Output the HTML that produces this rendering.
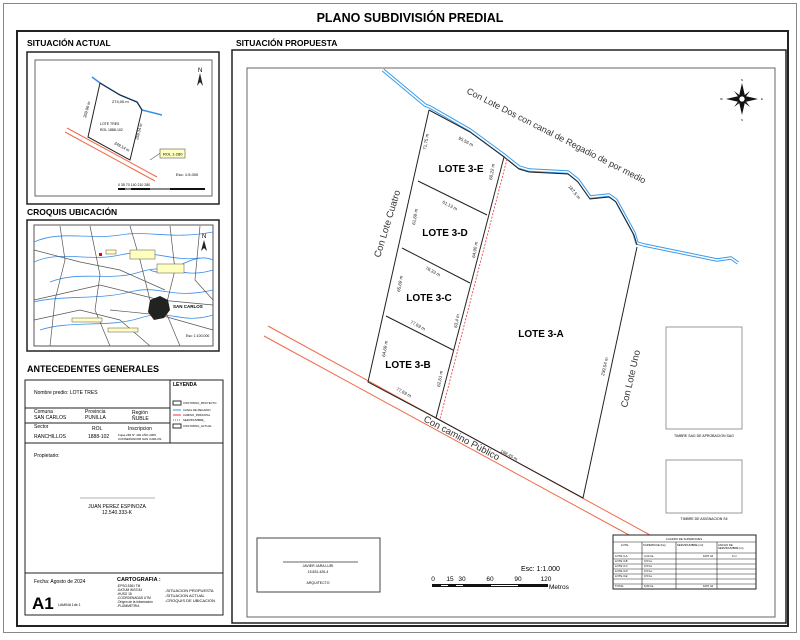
<!DOCTYPE html>
<html><head><meta charset="utf-8"><style>
body{margin:0;background:#fff}
svg{display:block;font-family:"Liberation Sans",sans-serif}
</style></head><body>
<svg width="800" height="640" viewBox="0 0 800 640" xmlns="http://www.w3.org/2000/svg">
<rect x="0" y="0" width="800" height="640" fill="#fff"/>
<rect x="3.5" y="3.5" width="793" height="629" fill="none" stroke="#888" stroke-width="1"/>
<text x="410" y="22" font-size="12.5" font-weight="bold" text-anchor="middle">PLANO SUBDIVISIÓN PREDIAL</text>
<rect x="17" y="31" width="771" height="595" fill="none" stroke="#222" stroke-width="2"/>

<!-- LEFT: Situacion actual -->
<text x="27" y="46" font-size="8.5" font-weight="bold">SITUACIÓN ACTUAL</text>
<rect x="27" y="52" width="192" height="152" fill="none" stroke="#222" stroke-width="1.5"/>
<rect x="35" y="60" width="177" height="136" fill="none" stroke="#666" stroke-width="1"/>
<polyline points="92,77 100,83 120,95 137,102 142,110 162,115" fill="none" stroke="#3a8ee6" stroke-width="1.5"/>
<polygon points="100,83 120,95 137,102 142,110 130,160 88,137" fill="none" stroke="#222" stroke-width="1"/>
<line x1="67" y1="128" x2="157" y2="177" stroke="#f06a4a" stroke-width="1"/>
<line x1="65" y1="132" x2="155" y2="181" stroke="#f06a4a" stroke-width="1"/>
<text x="112" y="103" font-size="4">274,00 m</text>
<text x="100" y="125" font-size="3.5">LOTE TRES</text>
<text x="100" y="131" font-size="3.5">ROL 1888-102</text>
<text x="86" y="118" font-size="4" transform="rotate(-75 86 118)">269,90 m</text>
<text x="114" y="144" font-size="4" transform="rotate(28 114 144)">249,14 m</text>
<text x="138" y="140" font-size="4" transform="rotate(-75 138 140)">259,34 m</text>
<line x1="150" y1="160" x2="162" y2="152" stroke="#555" stroke-width="0.6"/>
<rect x="160" y="149" width="25" height="9" fill="#ffffc0" stroke="#555" stroke-width="0.6"/>
<text x="163" y="155.5" font-size="4">ROL 1-280</text>
<text x="176" y="176" font-size="4">Esc: 1:5.000</text>
<text x="118" y="186" font-size="3.5">0  35   70       140        210       280</text>
<rect x="118" y="188" width="87" height="2" fill="#111"/>
<rect x="125" y="188.5" width="6" height="1" fill="#fff"/><rect x="150" y="188.5" width="20" height="1" fill="#fff"/>
<polygon points="200,73 197,86 200,82 203,86" fill="#222"/><text x="198" y="72" font-size="6">N</text>

<!-- Croquis -->
<text x="27" y="215" font-size="8.5" font-weight="bold">CROQUIS UBICACIÓN</text>
<rect x="27" y="220" width="192" height="131" fill="none" stroke="#222" stroke-width="1.5"/>
<rect x="34" y="225" width="179" height="121" fill="none" stroke="#555" stroke-width="1"/>
<g fill="none" stroke="#3a8ee6" stroke-width="0.8">
<path d="M34,242 C60,230 90,240 120,235 S170,240 213,232"/>
<path d="M34,262 C60,250 90,262 120,255 S170,262 200,258"/>
<path d="M50,282 C80,270 110,282 140,272 S180,280 213,270"/>
<path d="M34,302 C60,295 100,300 130,292 S170,300 213,290"/>
<path d="M40,330 C70,320 110,328 140,318 S180,325 213,315"/>
<path d="M150,270 C170,280 190,250 213,260"/>
</g>
<g fill="none" stroke="#555" stroke-width="0.7">
<path d="M34,250 L80,262 L120,270 L165,290"/><path d="M60,226 L65,260 L55,300 L50,346"/>
<path d="M90,226 L100,275 L95,310 L110,346"/><path d="M130,226 L140,260 L150,300"/>
<path d="M34,300 L100,285 L160,300 L213,305"/><path d="M170,226 L175,270 L165,310 L180,346"/>
<path d="M110,310 L160,315 L213,330"/><path d="M200,226 L195,280 L213,300"/>
<path d="M34,320 L80,310 L120,320 L150,346"/>
</g>
<path d="M150,300 l10,-4 l8,4 l2,10 l-6,8 l-10,2 l-6,-8z" fill="#222"/>
<rect x="99" y="253" width="3" height="3" fill="#e00"/>
<text x="173" y="308" font-size="4.5" font-weight="bold">SAN CARLOS</text>
<g fill="#ffffc0" stroke="#555" stroke-width="0.5">
<rect x="106" y="250" width="10" height="4"/><rect x="130" y="250" width="25" height="9"/><rect x="157" y="264" width="27" height="9"/>
<rect x="72" y="318" width="30" height="4"/><rect x="108" y="328" width="30" height="4"/></g>
<text x="186" y="337" font-size="3.5">Esc: 1:100.000</text>
<polygon points="204,240 201,251 204,248 207,251" fill="#222"/><text x="202" y="238" font-size="6">N</text>

<!-- Antecedentes -->
<text x="27" y="372" font-size="9" font-weight="bold">ANTECEDENTES  GENERALES</text>
<rect x="25" y="380" width="198" height="235" fill="none" stroke="#222" stroke-width="1"/>
<line x1="170" y1="380" x2="170" y2="443" stroke="#222"/>
<line x1="25" y1="408" x2="170" y2="408" stroke="#222"/>
<line x1="25" y1="423" x2="170" y2="423" stroke="#222"/>
<line x1="25" y1="443" x2="223" y2="443" stroke="#222"/>
<line x1="25" y1="573" x2="223" y2="573" stroke="#222"/>
<g font-size="5">
<text x="34" y="394">Nombre predio:  LOTE TRES</text>
<text x="34" y="413">Comuna</text><text x="34" y="419">SAN CARLOS</text>
<text x="85" y="413">Provincia</text><text x="85" y="419">PUNILLA</text>
<text x="132" y="414">Región</text><text x="132" y="420">ÑUBLE</text>
<text x="34" y="428">Sector</text><text x="92" y="430">ROL</text><text x="128" y="430">Inscripcion</text>
<text x="34" y="438">RANCHILLOS</text><text x="88" y="438">1888-102</text>
<text x="34" y="457">Propietario:</text>
<text x="173" y="386" font-weight="bold">LEYENDA</text>
<text x="117" y="508" text-anchor="middle">JUAN PEREZ ESPINOZA</text>
<text x="117" y="514" text-anchor="middle">12.540.333-K</text>
<text x="34" y="583">Fecha:  Agosto de 2024</text>
<text x="117" y="581" font-weight="bold" font-size="5.5">CARTOGRAFIA :</text>
<text x="58" y="606" font-size="3.5">LAMINA 1de 1</text>
</g>
<text x="118" y="436" font-size="3">Fojas 283 N° 402 AÑO 2005</text>
<text x="118" y="440" font-size="3">CONSERVADOR SAN CARLOS</text>
<g font-size="3.2"><text x="117" y="587">-EPSG:5361 TM</text><text x="117" y="591">-DATUM WGS 84</text><text x="117" y="595">-HUSO 18</text><text x="117" y="599">-COORDENADAS UTM</text><text x="117" y="603">-Origen de la información</text><text x="117" y="607">-PLANIMETRIA</text>
<text x="165" y="592" font-size="4">-SITUACION PROPUESTA</text><text x="165" y="597" font-size="4">-SITUACION ACTUAL</text><text x="165" y="602" font-size="4">-CROQUIS DE UBICACION</text></g>
<text x="32" y="609" font-size="17" font-weight="bold">A1</text>
<line x1="80" y1="498" x2="155" y2="498" stroke="#999" stroke-width="0.7"/>
<g stroke-width="1">
<rect x="173" y="401" width="8" height="4" fill="none" stroke="#333"/><line x1="173" y1="410" x2="181" y2="410" stroke="#3a8ee6"/>
<line x1="173" y1="415" x2="181" y2="415" stroke="#e33"/><line x1="173" y1="420" x2="181" y2="420" stroke="#e33" stroke-dasharray="1,1"/>
<rect x="173" y="424" width="8" height="4" fill="none" stroke="#333"/></g>
<g font-size="2.8"><text x="183" y="404">CONTORNO_PROYECTO</text><text x="183" y="411">CANAL DE REGADIO</text><text x="183" y="416">CAMINO_PRINCIPAL</text><text x="183" y="421">SERVIDUMBRE_</text><text x="183" y="427">CONTORNO_ACTUAL</text></g>

<!-- RIGHT PANEL -->
<text x="236" y="46" font-size="8.5" font-weight="bold">SITUACIÓN PROPUESTA</text>
<rect x="232" y="50" width="554" height="573" fill="none" stroke="#222" stroke-width="1.5"/>
<rect x="247" y="68" width="528" height="549" fill="none" stroke="#666" stroke-width="1"/>

<!-- canal -->
<polyline points="383,70 425,105 430,107 470,130 504,155 519,167 529,170 568,172 578,180 590,197 609,195 616,200 634,233 637,243 644,245 717,260 731,258 738,263" fill="none" stroke="#3a9ae8" stroke-width="3.5" stroke-linejoin="round"/>
<polyline points="383,70 425,105 430,107 470,130 504,155 519,167 529,170 568,172 578,180 590,197 609,195 616,200 634,233 637,243 644,245 717,260 731,258 738,263" fill="none" stroke="#fff" stroke-width="1.5" stroke-linejoin="round"/>
<polyline points="504,157 519,169 529,172 568,174 578,182 590,199 609,197 616,202 634,235 637,245" fill="none" stroke="#222" stroke-width="1"/>

<!-- road -->
<line x1="268" y1="326" x2="650" y2="535" stroke="#f06a4a" stroke-width="1"/>
<line x1="264" y1="336" x2="629" y2="535" stroke="#f06a4a" stroke-width="1"/>

<!-- lots -->
<g fill="none" stroke="#222" stroke-width="1">
<polyline points="429,110 470,132 504,157 436,418 368,382 429,110"/>
<line x1="418" y1="181" x2="487" y2="215"/>
<line x1="402" y1="248" x2="470" y2="283"/>
<line x1="386" y1="316" x2="453" y2="350"/>
<polyline points="436,418 583,498 637,247"/>
</g>
<line x1="507" y1="159" x2="440" y2="419" stroke="#e33" stroke-width="0.8" stroke-dasharray="2,1.5"/>

<g font-size="10" font-weight="bold" text-anchor="middle">
<text x="461" y="172">LOTE 3-E</text><text x="445" y="236">LOTE 3-D</text><text x="429" y="301">LOTE 3-C</text><text x="408" y="368">LOTE 3-B</text><text x="541" y="337">LOTE 3-A</text></g>

<g font-size="9.5" fill="#333">
<text x="466" y="93" font-size="9" transform="rotate(27 466 93)">Con Lote Dos  con canal de Regadio de por medio</text>
<text x="380" y="258" transform="rotate(-73 380 258)">Con Lote Cuatro</text>
<text x="627" y="408" transform="rotate(-77 627 408)">Con Lote Uno</text>
<text x="423" y="421" transform="rotate(28 423 421)">Con camino Público</text></g>

<g font-size="4.5" fill="#222">
<text x="458" y="139" transform="rotate(28 458 139)">95,56 m</text>
<text x="426" y="150" transform="rotate(-80 426 150)">71,75 m</text>
<text x="492" y="180" transform="rotate(-80 492 180)">60,22 m</text>
<text x="442" y="203" transform="rotate(28 442 203)">61,13 m</text>
<text x="415" y="225" transform="rotate(-80 415 225)">61,69 m</text>
<text x="475" y="258" transform="rotate(-80 475 258)">64,90 m</text>
<text x="425" y="269" transform="rotate(28 425 269)">78,33 m</text>
<text x="400" y="292" transform="rotate(-80 400 292)">65,69 m</text>
<text x="457" y="328" transform="rotate(-80 457 328)">63,4 m</text>
<text x="410" y="323" transform="rotate(28 410 323)">77,69 m</text>
<text x="385" y="357" transform="rotate(-80 385 357)">64,69 m</text>
<text x="396" y="390" transform="rotate(28 396 390)">77,69 m</text>
<text x="440" y="387" transform="rotate(-80 440 387)">62,61 m</text>
<text x="500" y="452" transform="rotate(28 500 452)">168,45 m</text>
<text x="604" y="376" transform="rotate(-77 604 376)">239,54 m</text>
<text x="568" y="187" transform="rotate(50 568 187)">187,5 m</text></g>

<!-- compass -->
<g transform="translate(742,99)">
<polygon points="0,-16 3,-3 16,0 3,3 0,16 -3,3 -16,0 -3,-3" fill="#111"/>
<polygon points="-8,-8 0,-2 8,-8 2,0 8,8 0,2 -8,8 -2,0" fill="#111"/>
<circle r="3" fill="#fff" stroke="#111" stroke-width="0.7"/>
<text x="-1" y="-18" font-size="3">N</text><text x="-1" y="22" font-size="3">S</text><text x="-22" y="1" font-size="3">W</text><text x="19" y="1" font-size="3">E</text></g>

<!-- stamps -->
<rect x="666" y="327" width="76" height="102" fill="none" stroke="#999" stroke-width="1"/>
<text x="704" y="437" font-size="3.5" text-anchor="middle">TIMBRE SAG DE APROBACION SAG</text>
<rect x="666" y="460" width="76" height="53" fill="none" stroke="#999" stroke-width="1"/>
<text x="704" y="520" font-size="3.5" text-anchor="middle">TIMBRE  DE ASIGNACION SII</text>

<!-- arquitecto -->
<rect x="257" y="538" width="123" height="54" fill="none" stroke="#444" stroke-width="1"/>
<line x1="283" y1="562" x2="358" y2="562" stroke="#333" stroke-width="0.8"/>
<g font-size="3.5" text-anchor="middle"><text x="318" y="567">JAVIER JARA LURI</text><text x="318" y="573">15.831.426-4</text><text x="318" y="584">ARQUITECTO</text></g>

<!-- scale -->
<text x="521" y="571" font-size="7">Esc:  1:1.000</text>
<g font-size="6.5" text-anchor="middle"><text x="433" y="581">0</text><text x="450" y="581">15</text><text x="462" y="581">30</text><text x="490" y="581">60</text><text x="518" y="581">90</text><text x="546" y="581">120</text></g>
<rect x="432" y="584" width="116" height="3" fill="#111"/>
<rect x="441" y="585" width="7" height="1" fill="#fff"/><rect x="456" y="585" width="7" height="1" fill="#fff"/><rect x="491" y="585" width="27" height="1" fill="#fff"/>
<text x="549" y="589" font-size="6.5">Metros</text>

<!-- table -->
<rect x="613" y="535" width="143" height="54" fill="none" stroke="#222" stroke-width="1"/>
<g stroke="#222" stroke-width="0.6">
<line x1="613" y1="542" x2="756" y2="542"/>
<line x1="613" y1="553" x2="756" y2="553"/><line x1="613" y1="559" x2="756" y2="559"/><line x1="613" y1="564" x2="756" y2="564"/><line x1="613" y1="569" x2="756" y2="569"/><line x1="613" y1="574" x2="756" y2="574"/><line x1="613" y1="579" x2="756" y2="579"/><line x1="613" y1="584" x2="756" y2="584"/>
<line x1="642" y1="542" x2="642" y2="589"/><line x1="676" y1="542" x2="676" y2="589"/><line x1="717" y1="542" x2="717" y2="589"/></g>
<g font-size="2.8"><text x="684" y="540" text-anchor="middle">CUADRO DE SUPERFICIES</text>
<text x="621" y="546">LOTE</text><text x="643" y="546">SUPERFICIE (ha)</text><text x="677" y="546">SERVIDUMBRE (m²)</text><text x="718" y="546">ANCHO DE</text><text x="718" y="549">SERVIDUMBRE (m)</text>
<text x="615" y="557">LOTE 3-A</text><text x="644" y="557">4,23 ha</text><text x="703" y="557">1097,44</text><text x="732" y="557">6 m</text>
<text x="615" y="562">LOTE 3-B</text><text x="644" y="562">0,5 ha</text>
<text x="615" y="567">LOTE 3-C</text><text x="644" y="567">0,5 ha</text>
<text x="615" y="572">LOTE 3-D</text><text x="644" y="572">0,5 ha</text>
<text x="615" y="577">LOTE 3-E</text><text x="644" y="577">0,5 ha</text>
<text x="615" y="587">TOTAL</text><text x="644" y="587">6,83 ha</text><text x="703" y="587">1097,44</text></g>
</svg>
</body></html>
